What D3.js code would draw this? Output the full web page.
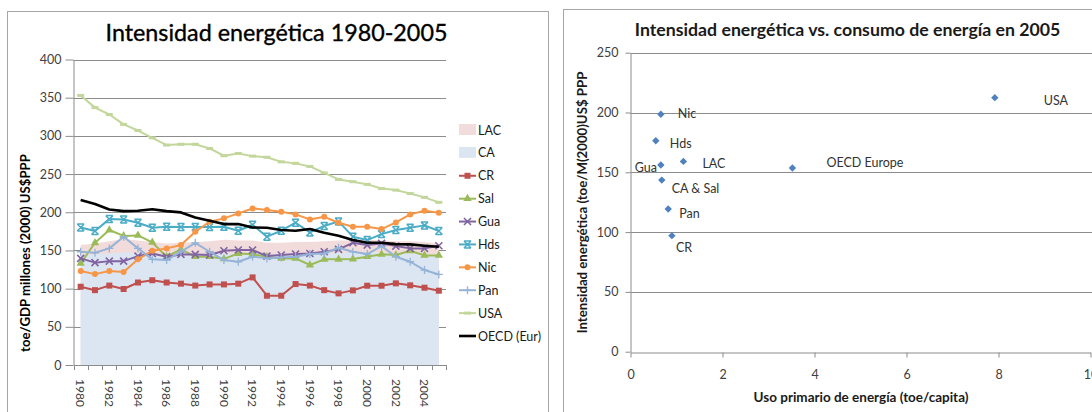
<!DOCTYPE html>
<html><head><meta charset="utf-8">
<script src="https://cdn.jsdelivr.net/npm/d3@7"></script>
<style>
body{margin:0;background:#fff}
svg{display:block}
text{font-family:Lato,"Liberation Sans",sans-serif}
</style>
</head><body>
<svg id="c" width="1092" height="412"></svg>
<script>
// ---------- DATA: left chart (toe / GDP millones (2000) US$PPP) ----------
const years = [1980,1981,1982,1983,1984,1985,1986,1987,1988,1989,1990,1991,1992,1993,1994,1995,1996,1997,1998,1999,2000,2001,2002,2003,2004,2005];
const yearLabels = [1980,1982,1984,1986,1988,1990,1992,1994,1996,1998,2000,2002,2004];
const leftTicks = [0,50,100,150,200,250,300,350,400];

const LAC  = [157,159,162,165,163,161,159,160,161,162,164,163,163,160,160,161,161,162,163,163,164,163,162,162,161,159];
const CA   = [144,145,146,147,147,146,144,145,146,146,146,146,147,145,145,146,145,146,147,147,147,147,146,146,145,144];
const CR   = [102.5,98,104,99.5,108,111,108,106.5,104,105.5,105.5,106.5,114.7,90.7,90.7,106,104,98,93.8,97.7,103.8,103.8,106.9,104.3,101.2,97.3];
const Sal  = [133,160,176.7,169,169.7,160.5,141.8,151.4,141.8,141.8,139,146,145,141.8,139.6,139.6,130.9,138.3,138.3,138.7,141.8,145,144,149.6,143.5,143.5];
const Gua  = [139.6,134,136,136,142.6,146,141.8,144.8,144.8,144,149.6,150.5,150.5,142.6,144,145.3,146,148.3,151.4,160,157,159.2,155.7,152.7,152.7,156.2];
const Hds  = [180,175.4,191,190.6,186.3,179.7,181,180.6,180.6,180.6,181,175.8,183.6,168,175.8,186.3,173.6,182,188,168,163.6,171.4,176.7,179.7,182.8,175.4];
const Nic  = [123,119,123,121.7,138.3,149.6,152.7,157,174.5,187.6,192,198.5,205,202.8,200.7,197.2,190.6,194,186.3,181,181,178,186.7,197.2,202,199.3];
const Pan  = [148.3,147,152.7,168,152.7,138.3,137.4,148.3,160,148.3,137.4,135.2,141.8,139.6,140.9,141.8,145.3,146,153.5,148.3,145.3,155.7,141.8,135.2,124.3,118.6];
const USA  = [353,337,328,315,307,297.5,288,289,289,283.5,274,277,273.5,272,266,264,260,251.5,243,240,236.5,231,229,224.5,219.5,213];
const OECD = [216,210.7,203.7,201.5,202,204,201.5,199.8,193.2,188.9,184.5,184.5,180.1,179.7,176.7,175.8,178,173.2,169.2,163.6,160,160,158.3,157.9,156.2,154.9];

// ---------- DATA: right chart (2005) ----------
const scNames = ["Nic","Hds","Gua","LAC","CA & Sal","Pan","CR","OECD Europe","USA"];
const scUse   = [0.66,0.55,0.66,1.15,0.68,0.82,0.90,3.52,7.92];   // toe/capita
const scInt   = [198.5,176.4,156.1,159.1,143.5,119.3,97,153.6,212.4];
const rightXTicks = [0,2,4,6,8,10];
const rightYTicks = [0,50,100,150,200,250];

// label placement (pixels relative to point) – layout, not data
const lblDx = [17,14,-4,19,10,11,4,34,49];
const lblDy = [-1,3,2,2,8,4,12,-5,3];
const lblAnchor = ["start","start","end","start","start","start","start","start","start"];

// ---------- series styling ----------
const lineSeries = [
  {name:"CR",  values:CR,  color:"#C0504D", marker:"square"},
  {name:"Sal", values:Sal, color:"#9BBB59", marker:"triangle"},
  {name:"Gua", values:Gua, color:"#8064A2", marker:"x"},
  {name:"Hds", values:Hds, color:"#4BACC6", marker:"star"},
  {name:"Nic", values:Nic, color:"#F79646", marker:"circle"},
  {name:"Pan", values:Pan, color:"#95B3D7", marker:"plus"},
  {name:"USA", values:USA, color:"#C3D69B", marker:"dash"},
];
const areaSeries = [
  {name:"LAC", values:LAC, color:"#F2DCDB"},
  {name:"CA",  values:CA,  color:"#DCE6F2"},
];

const svg = d3.select("#c");
const GRID = "#8C8C8C", FRAME = "#A6A6A6", TICKTXT = "#404040";

function fitText(sel, target){
  const n = sel.node(); const fs = parseFloat(sel.attr("font-size"));
  const w = n.getComputedTextLength();
  if (w > 0) sel.attr("font-size", (fs*target/w).toFixed(2));
}

function drawMarker(g, type, color){
  if (type==="square") g.append("rect").attr("x",-3).attr("y",-3).attr("width",6).attr("height",6).attr("fill",color);
  else if (type==="triangle") g.append("path").attr("d", d3.symbol(d3.symbolTriangle, 30)()).attr("fill",color);
  else if (type==="circle") g.append("circle").attr("r",3).attr("fill",color);
  else if (type==="dash") g.append("rect").attr("x",-3.5).attr("y",-1.5).attr("width",7).attr("height",3).attr("fill",color);
  else if (type==="plus"){
    g.append("path").attr("d","M-4,0H4M0,-4V4").attr("stroke",color).attr("stroke-width",1.3);
  } else if (type==="x"){
    g.append("path").attr("d","M-3.5,-3.5L3.5,3.5M-3.5,3.5L3.5,-3.5").attr("stroke",color).attr("stroke-width",1.6);
  } else if (type==="star"){
    g.append("path").attr("d","M-3.5,-3.5L3.5,3.5M-3.5,3.5L3.5,-3.5M-3.5,-3.5H3.5M-3.5,3.5H3.5").attr("stroke",color).attr("stroke-width",1.5);
  }
}

// ================= LEFT CHART =================
svg.append("rect").attr("x",7.5).attr("y",11.5).attr("width",541).attr("height",420)
  .attr("fill","#fff").attr("stroke",FRAME);

const xL = d3.scaleBand().domain(years).range([73.5,446]).padding(0);
const yL = d3.scaleLinear().domain([0,400]).range([365,59.5]);
const cx = d => xL(d) + xL.bandwidth()/2;

const L = svg.append("g");
// gridlines
L.append("g").selectAll("line").data(leftTicks.filter(t=>t>0)).join("line")
  .attr("x1",73.5).attr("x2",446).attr("y1",d=>Math.round(yL(d))+0.5).attr("y2",d=>Math.round(yL(d))+0.5)
  .attr("stroke",GRID).attr("stroke-width",1);

// areas (not stacked)
areaSeries.forEach(s=>{
  const area = d3.area().x((d,i)=>cx(years[i])).y0(yL(0)).y1(d=>yL(d));
  L.append("path").datum(s.values).attr("d",area).attr("fill",s.color);
});

// lines
const lineGen = d3.line().x((d,i)=>cx(years[i])).y(d=>yL(d));
lineSeries.forEach(s=>{
  L.append("path").datum(s.values).attr("d",lineGen).attr("fill","none")
    .attr("stroke",s.color).attr("stroke-width",2).attr("stroke-linejoin","round");
  s.values.forEach((v,i)=>{
    const g = L.append("g").attr("transform",`translate(${cx(years[i])},${yL(v)})`);
    drawMarker(g, s.marker, s.color);
  });
});
L.append("path").datum(OECD).attr("d",lineGen).attr("fill","none")
  .attr("stroke","#000").attr("stroke-width",2.6).attr("stroke-linejoin","round");

// y axis
const yAxL = L.append("g").attr("transform","translate(73.5,0)")
  .call(d3.axisLeft(yL).tickValues(leftTicks).tickSize(8).tickSizeOuter(0).tickPadding(4));
yAxL.select(".domain").attr("stroke",GRID);
yAxL.selectAll(".tick line").attr("stroke",GRID);
yAxL.selectAll("text").attr("font-size",12.5).attr("fill",TICKTXT).attr("font-family","Lato");

// x axis
const xAxL = L.append("g").attr("transform","translate(0,365)")
  .call(d3.axisBottom(xL).tickValues(yearLabels).tickSize(0).tickSizeOuter(0));
xAxL.select(".domain").attr("stroke",GRID);
xAxL.selectAll("text").attr("font-size",12).attr("fill",TICKTXT).attr("font-family","Lato")
  .attr("transform","rotate(90)").attr("x",14).attr("y",0).attr("dy","0.35em").attr("text-anchor","start");
// boundary ticks between categories
L.append("g").selectAll("line").data(years.map(d=>xL(d)).concat([xL.range()[1]])).join("line")
  .attr("x1",d=>Math.round(d)+0.5).attr("x2",d=>Math.round(d)+0.5).attr("y1",365).attr("y2",370)
  .attr("stroke",GRID);

// title
const t1 = L.append("text").attr("x",276.5).attr("y",41).attr("text-anchor","middle")
  .attr("font-size",22).attr("fill","#000").attr("stroke","#000").attr("stroke-width",0.35)
  .text("Intensidad energética 1980-2005");
fitText(t1, 342);
// y title
const yt1 = L.append("text").attr("transform","translate(25,253) rotate(-90)").attr("text-anchor","middle")
  .attr("dy","0.35em").attr("font-size",11).attr("font-weight","bold").attr("fill","#000")
  .text("toe/GDP millones (2000) US$PPP");
fitText(yt1, 198);

// legend
const legendItems = [
  {name:"LAC", type:"area", color:"#F2DCDB"},
  {name:"CA", type:"area", color:"#DCE6F2"},
  ...lineSeries.map(s=>({name:s.name, type:"line", color:s.color, marker:s.marker})),
  {name:"OECD (Eur)", type:"oecd", color:"#000"}
];
const legY = d3.scalePoint().domain(legendItems.map(d=>d.name)).range([130,336]);
legendItems.forEach(it=>{
  const y = legY(it.name);
  const g = L.append("g");
  if (it.type==="area") g.append("rect").attr("x",459).attr("y",y-6).attr("width",17).attr("height",11).attr("fill",it.color);
  else {
    g.append("line").attr("x1",459).attr("x2",476).attr("y1",y).attr("y2",y)
      .attr("stroke",it.color).attr("stroke-width",it.type==="oecd"?2.6:2);
    if (it.marker){ const m = g.append("g").attr("transform",`translate(467.5,${y})`); drawMarker(m,it.marker,it.color); }
  }
  g.append("text").attr("x",478).attr("y",y).attr("dy","0.36em").attr("font-size",12.5).attr("fill","#1a1a1a").text(it.name);
});

// ================= RIGHT CHART =================
svg.append("rect").attr("x",563.5).attr("y",9.5).attr("width",600).attr("height",420)
  .attr("fill","#fff").attr("stroke",FRAME);
const R = svg.append("g");
const xR = d3.scaleLinear().domain([0,10]).range([630.5,1090.5]);
const yR = d3.scaleLinear().domain([0,250]).range([351.7,52.7]);

R.append("g").selectAll("line").data(rightYTicks.filter(t=>t>0)).join("line")
  .attr("x1",630.5).attr("x2",1092).attr("y1",d=>Math.round(yR(d))+0.5).attr("y2",d=>Math.round(yR(d))+0.5)
  .attr("stroke",GRID);

const yAxR = R.append("g").attr("transform","translate(630.5,0)")
  .call(d3.axisLeft(yR).tickValues(rightYTicks).tickSize(5).tickSizeOuter(0).tickPadding(7));
yAxR.select(".domain").attr("stroke",GRID);
yAxR.selectAll(".tick line").attr("stroke",GRID);
yAxR.selectAll("text").attr("font-size",12.5).attr("fill",TICKTXT).attr("font-family","Lato");

const xAxR = R.append("g").attr("transform",`translate(0,${Math.round(yR(0))+0.5})`)
  .call(d3.axisBottom(xR).tickValues(rightXTicks).tickSize(5).tickSizeOuter(0).tickPadding(13));
xAxR.select(".domain").attr("stroke",GRID);
xAxR.selectAll(".tick line").attr("stroke",GRID);
xAxR.selectAll("text").attr("font-size",12.5).attr("fill",TICKTXT).attr("font-family","Lato");

// points
scNames.forEach((n,i)=>{
  const px = xR(scUse[i]), py = yR(scInt[i]);
  R.append("rect").attr("x",-2.6).attr("y",-2.6).attr("width",5.2).attr("height",5.2)
    .attr("transform",`translate(${px},${py}) rotate(45)`).attr("fill","#4F81BD");
  R.append("text").attr("x",px+lblDx[i]).attr("y",py+lblDy[i]).attr("dy","0.36em")
    .attr("text-anchor",lblAnchor[i]).attr("font-size",12.5).attr("fill","#333").text(n);
});

const t2 = R.append("text").attr("x",847.6).attr("y",36).attr("text-anchor","middle")
  .attr("font-size",16).attr("font-weight","bold").attr("fill","#1a1a1a")
  .text("Intensidad energética vs. consumo de energía en 2005");
fitText(t2, 426);
const xt2 = R.append("text").attr("x",861).attr("y",402).attr("text-anchor","middle")
  .attr("font-size",11).attr("font-weight","bold").attr("fill","#1a1a1a")
  .text("Uso primario de energía (toe/capita)");
fitText(xt2, 215);
const yt2 = R.append("text").attr("transform","translate(582,202.5) rotate(-90)").attr("text-anchor","middle")
  .attr("dy","0.35em").attr("font-size",11).attr("font-weight","bold").attr("fill","#1a1a1a")
  .text("Intensidad energética (toe/M(2000)US$ PPP");
fitText(yt2, 262);
</script>
</body></html>
